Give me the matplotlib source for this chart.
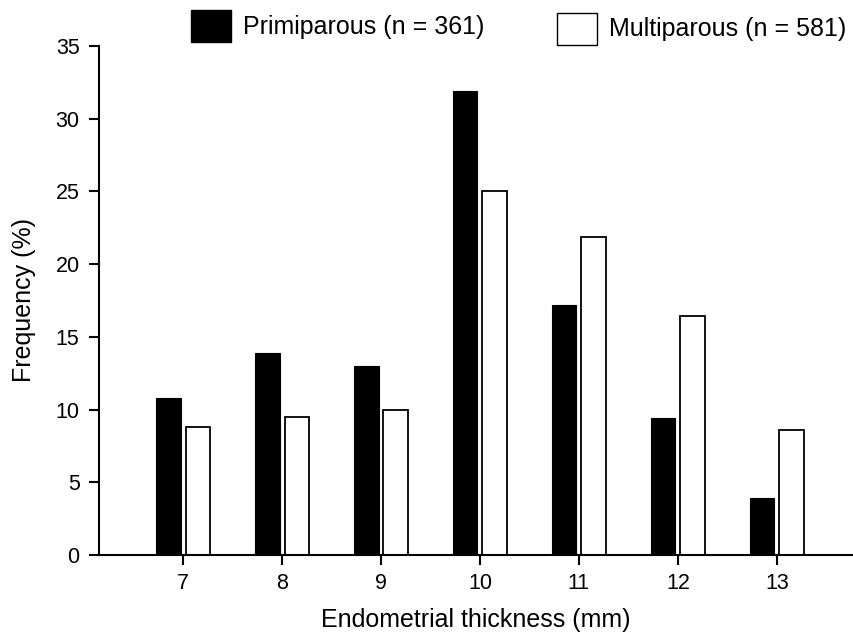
import matplotlib
matplotlib.use("Agg")
import matplotlib.pyplot as plt
from matplotlib.patches import Rectangle
import numpy as np

plt.rcParams['font.family'] = ['Liberation Sans', 'DejaVu Sans']

categories = [7, 8, 9, 10, 11, 12, 13]
primiparous = [10.8, 13.9, 13.0, 31.9, 17.2, 9.4, 3.9]
multiparous = [8.8, 9.5, 10.0, 25.0, 21.9, 16.4, 8.6]
yticks = [0, 5, 10, 15, 20, 25, 30, 35]
label_primi = "Primiparous (n = 361)"
label_multi = "Multiparous (n = 581)"

fig = plt.figure(figsize=(8.54, 6.39), dpi=100)
ax = fig.add_axes([99/854, 1-555/639, (853-99)/854, (555-46)/639])

x = np.array(categories, dtype=float)
w = 0.25
ax.bar(x - 0.15, primiparous, width=w, color='black', edgecolor='black', linewidth=0.8)
ax.bar(x + 0.15, multiparous, width=w, color='white', edgecolor='black', linewidth=1.3)

ax.set_xlim(6.15, 13.77)
ax.set_ylim(0, 35)
ax.set_yticks(yticks)
ax.set_xticks(categories)
ax.spines['top'].set_visible(False)
ax.spines['right'].set_visible(False)
for s in ['left', 'bottom']:
    ax.spines[s].set_linewidth(1.5)
ax.tick_params(axis='both', direction='out', length=7, width=1.5, labelsize=15.5)
ax.tick_params(axis='y', pad=7)
ax.tick_params(axis='x', pad=6)

ax.set_xlabel("Endometrial thickness (mm)", fontsize=18, labelpad=10)
ax.set_ylabel("Frequency (%)", fontsize=18, labelpad=14)

# legend drawn manually at top
fig.add_artist(Rectangle((191/854, 1-42/639), 40/854, 32/639, transform=fig.transFigure,
                         facecolor='black', edgecolor='black', linewidth=1))
fig.text(243/854, 1-27/639, label_primi, fontsize=18, va='center', ha='left')
fig.add_artist(Rectangle((557/854, 1-45/639), 40/854, 32/639, transform=fig.transFigure,
                         facecolor='white', edgecolor='black', linewidth=1))
fig.text(609/854, 1-29/639, label_multi, fontsize=18, va='center', ha='left')

fig.savefig("out.png", dpi=100)
